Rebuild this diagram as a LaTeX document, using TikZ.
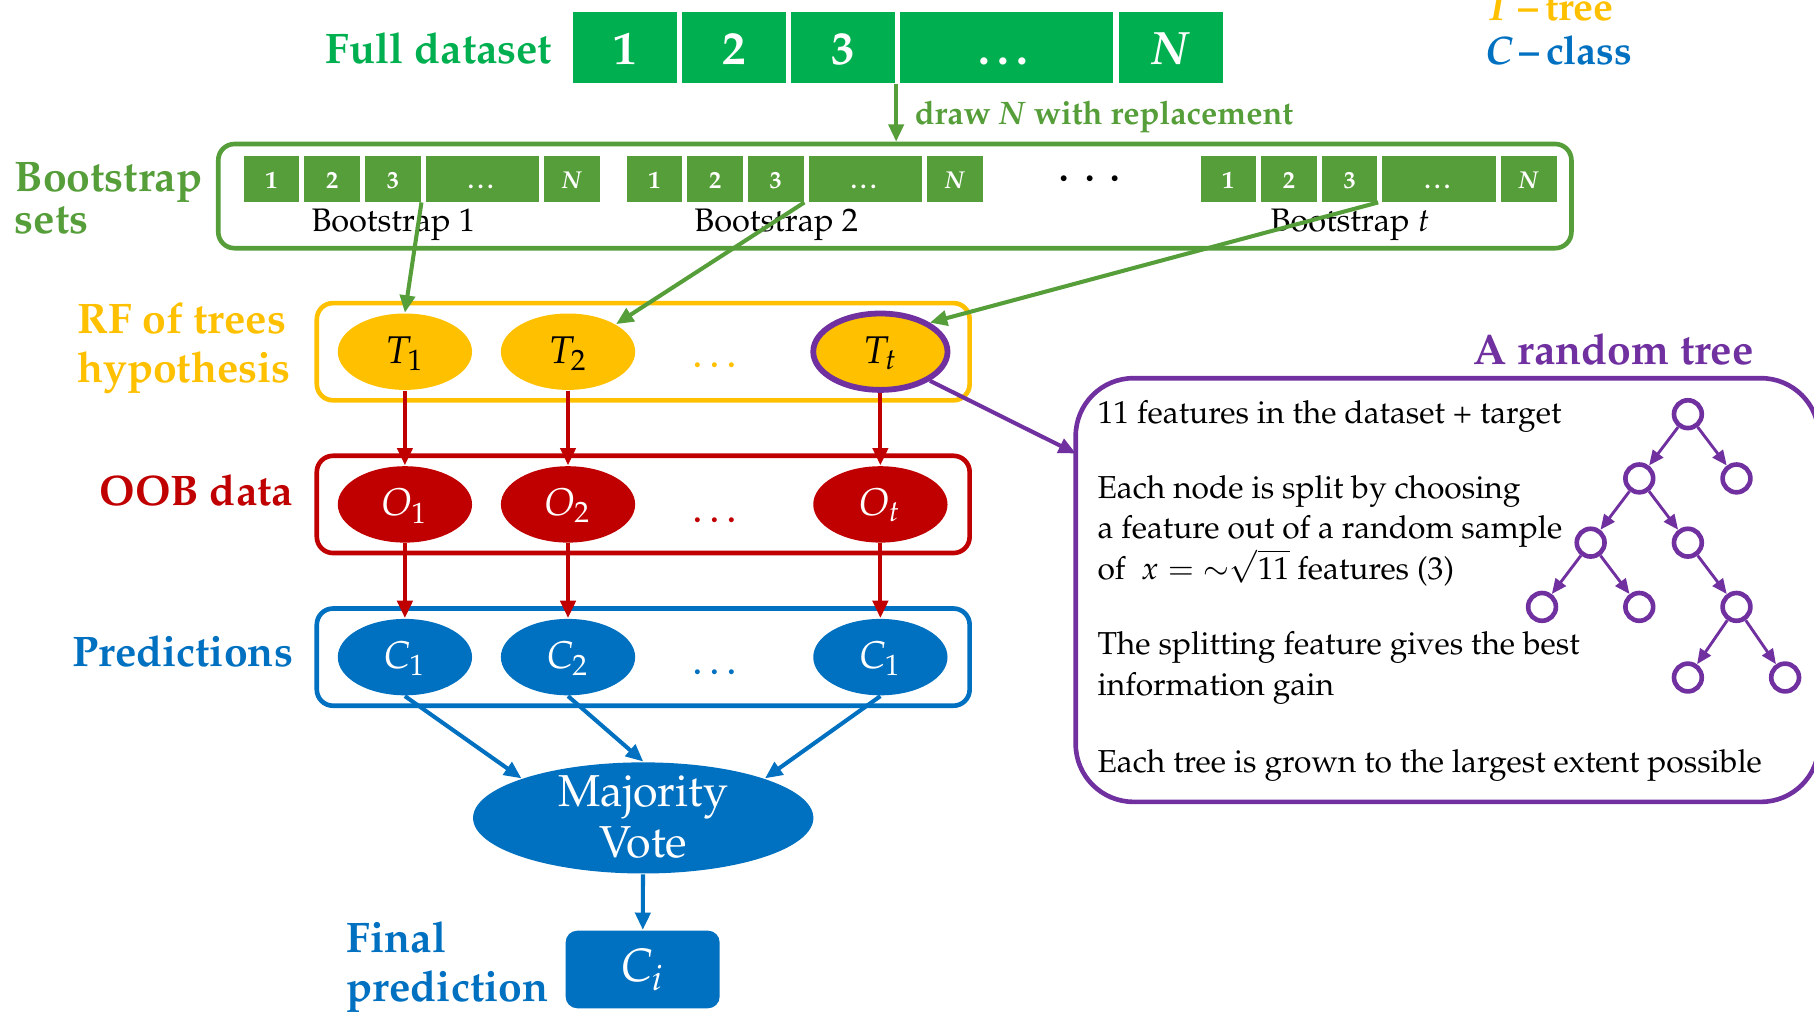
\documentclass[tikz,border=0pt]{standalone}
\usepackage[T1]{fontenc}
\usepackage{mathpazo}
\usetikzlibrary{positioning,shapes.geometric,arrows.meta}

\definecolor{fullgreen}{HTML}{00B050}
\definecolor{bootgreen}{HTML}{569E3A}
\definecolor{rfyellow}{HTML}{FFC000}
\definecolor{oobred}{HTML}{C00000}
\definecolor{predblue}{HTML}{0070C0}
\definecolor{treepurple}{HTML}{7030A0}

\begin{document}
\begin{tikzpicture}[
  x=0.01cm, y=-0.01cm,
  every node/.style={inner sep=0pt},
  headlbl/.style={font=\fontsize{10.5}{12.2}\selectfont\bfseries, align=left},
  fullcell/.style={rectangle, fill=fullgreen, text=white, minimum width=0.9cm,
    minimum height=0.62cm, text height=0.3cm, text depth=0cm,
    font=\fontsize{11.5}{12}\selectfont\bfseries},
  bootcell/.style={rectangle, fill=bootgreen, text=white, minimum width=0.48cm,
    minimum height=0.395cm, text height=0.16cm, text depth=0cm,
    font=\fontsize{6}{7}\selectfont\bfseries},
  rowbox/.style={draw, rounded corners=0.14cm, line width=0.04cm,
    minimum width=5.64cm, minimum height=0.84cm},
  hyp/.style={ellipse, minimum width=1.16cm, minimum height=0.66cm,
    text height=0.2cm, text depth=0cm, font=\fontsize{9.5}{10}\selectfont},
  rowdots/.style={anchor=base, font=\fontsize{10.5}{10}\selectfont},
  arr/.style={line width=0.035cm, -{Triangle[length=0.15cm,width=0.13cm]}},
  body/.style={anchor=base west, align=left, font=\fontsize{7.8}{10}\selectfont},
  treenode/.style={circle, draw=treepurple, line width=0.04cm, minimum size=0.24cm},
  sibling distance=0.84cm, level distance=0.555cm,
  level 4/.style={level distance=0.61cm},
  edge from parent/.style={draw=treepurple, line width=0.025cm,
    -{Triangle[length=0.13cm,width=0.11cm]}}
  ]
\useasboundingbox (0,0) rectangle (1568,875);

% full dataset
\node[headlbl, text=fullgreen, anchor=base east] (fulllbl) at (478,55) {Full dataset};
\node[fullcell] (f1) at (540,41) {1};
\node[fullcell, right=0.03cm of f1] (f2) {2};
\node[fullcell, right=0.03cm of f2] (f3) {3};
\node[fullcell, right=0.03cm of f3, minimum width=1.84cm] (f4) {\dots};
\node[fullcell, right=0.03cm of f4] (fN) {\textit{N}};

% legend
\node[headlbl, text=rfyellow, anchor=base west, font=\fontsize{9.8}{11}\selectfont\bfseries]
  (legT) at (1283,18) {\textit{T}\,\textendash\,tree};
\node[headlbl, text=predblue, anchor=base west, font=\fontsize{9.8}{11}\selectfont\bfseries]
  (legC) at (1283,56) {\textit{C}\,\textendash\,class};

% bootstrap sets (base = last line)
\node[headlbl, text=bootgreen, anchor=base west, font=\fontsize{10.5}{10.4}\selectfont\bfseries]
  (bootlbl) at (12,202) {Bootstrap\\sets};
\node[draw=bootgreen, rounded corners=0.14cm, line width=0.04cm,
  minimum width=11.69cm, minimum height=0.9cm] (bsets) at (773.5,169.5) {};
\node[anchor=base west, text=bootgreen, font=\fontsize{8}{9}\selectfont\bfseries]
  (drawlbl) at (790,108) {draw \textit{N} with replacement};
\draw[arr, bootgreen] (f3.south east) -- (f3.south east |- bsets.north);

\foreach \g/\x in {1/210, 2/541, t/1037} {
  \node[bootcell, anchor=west] (b\g-1) at (\x,154.5) {1};
  \node[bootcell, right=0.03cm of b\g-1] (b\g-2) {2};
  \node[bootcell, right=0.03cm of b\g-2] (b\g-3) {3};
  \node[bootcell, right=0.03cm of b\g-3, minimum width=0.98cm] (b\g-4) {\dots};
  \node[bootcell, right=0.03cm of b\g-4] (b\g-N) {\textit{N}};
  \node[anchor=base, font=\fontsize{8}{9}\selectfont] (bl\g) at (\x+130,200) {Bootstrap $\g$};
}
\node[font=\fontsize{13}{14}\selectfont] (bdots) at (942,156) {$\cdots$};

% RF of trees
\node[headlbl, text=rfyellow, anchor=base west] (rflbl) at (66,331) {RF of trees\\hypothesis};
\node[rowbox, draw=rfyellow] (rfbox) at (556,304) {};
\node[hyp, fill=rfyellow] (t1) at (350,304) {$T_1$};
\node[hyp, fill=rfyellow] (t2) at (491,304) {$T_2$};
\node[rowdots, text=rfyellow] (tdots) at (621,318) {\dots};
\node[hyp, fill=rfyellow, draw=treepurple, line width=0.05cm] (tt) at (761,304) {$T_t$};

\draw[arr, bootgreen] (b1-3.south east) -- (t1.north);
\draw[arr, bootgreen] (b2-3.south east) -- (t2.north east);
\draw[arr, bootgreen] (bt-3.south east) -- (tt.north east);

% OOB data
\node[headlbl, text=oobred, anchor=base east] (ooblbl) at (254,437) {OOB data};
\node[rowbox, draw=oobred] (oobbox) at (556,436) {};
\node[hyp, fill=oobred, text=white] (o1) at (350,436) {$O_1$};
\node[hyp, fill=oobred, text=white] (o2) at (491,436) {$O_2$};
\node[rowdots, text=oobred] (odots) at (621,452) {\dots};
\node[hyp, fill=oobred, text=white] (ot) at (761,436) {$O_t$};

\draw[arr, oobred] (t1) -- (o1);
\draw[arr, oobred] (t2) -- (o2);
\draw[arr, oobred] (tt) -- (ot);

% predictions
\node[headlbl, text=predblue, anchor=base east] (predlbl) at (254,576) {Predictions};
\node[rowbox, draw=predblue] (predbox) at (556,568) {};
\node[hyp, fill=predblue, text=white] (c1) at (350,568) {$C_1$};
\node[hyp, fill=predblue, text=white] (c2) at (491,568) {$C_2$};
\node[rowdots, text=predblue] (cdots) at (621,583) {\dots};
\node[hyp, fill=predblue, text=white] (ct) at (761,568) {$C_1$};

\draw[arr, oobred] (o1) -- (c1);
\draw[arr, oobred] (o2) -- (c2);
\draw[arr, oobred] (ot) -- (ct);

% majority vote and final class
\node[ellipse, fill=predblue, minimum width=2.94cm, minimum height=0.96cm] (vote) at (556,707) {};
\node[align=center, text=white, font=\fontsize{11}{12.5}\selectfont] (votetxt) at (556,706) {Majority\\Vote};
\draw[arr, predblue] (c1.south) -- (vote.162);
\draw[arr, predblue] (c2.south) -- (vote.north);
\draw[arr, predblue] (ct.south) -- (vote.18);

\node[headlbl, text=predblue, anchor=base west] (finallbl) at (299,866) {Final\\prediction};
\node[rectangle, fill=predblue, rounded corners=0.1cm, minimum width=1.33cm, minimum height=0.67cm,
  text=white, font=\fontsize{11.5}{12}\selectfont] (ci) at (555.5,838) {$C_i$};
\draw[arr, predblue] (vote) -- (ci);

% a random tree
\node[headlbl, text=treepurple, anchor=base west] (rtlbl) at (1273,315) {A random tree};
\node[draw=treepurple, rounded corners=0.5cm, line width=0.04cm,
  minimum width=6.42cm, minimum height=3.66cm] (rtree) at (1251,510) {};
\coordinate (rin) at (930,392);
\draw[arr, treepurple] (tt.south east) -- (rin);

\node[body] (txt1) at (948,366) {11 features in the dataset + target};
\node[body] (txt2) at (948,501) {Each node is split by choosing\\
  a feature out of a random sample\\
  of~ $x = {\sim}\sqrt{11}$ features (3)};
\node[body] (txt3) at (948,601) {The splitting feature gives the best\\information gain};
\node[body] (txt4) at (948,668) {Each tree is grown to the largest extent possible};

\node[treenode] (root) at (1459,358) {}
  child {node[treenode] (n1) {}
    child {node[treenode] (n11) {}
      child {node[treenode] (n111) {}}
      child {node[treenode] (n112) {}}
    }
    child {node[treenode] (n12) {}
      child[missing] {}
      child {node[treenode] (n122) {}
        child {node[treenode] (n1221) {}}
        child {node[treenode] (n1222) {}}
      }
    }
  }
  child {node[treenode] (n2) {}};
\end{tikzpicture}
\end{document}
